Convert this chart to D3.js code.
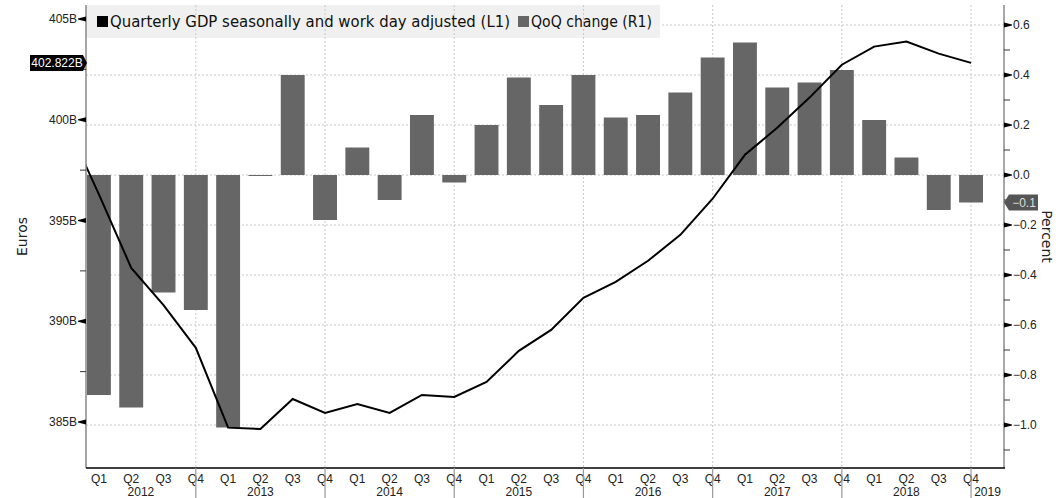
<!DOCTYPE html>
<html><head><meta charset="utf-8">
<script src="https://cdn.jsdelivr.net/npm/d3@7"></script>
<style>
body{margin:0;background:#fff;}
svg{display:block;font-family:"DejaVu Sans",sans-serif;}
.tk{font-family:"Liberation Sans",Arial,sans-serif;}
</style></head>
<body><svg id="c" width="1062" height="498"></svg>
<script>
// ---- data ----
const quarters = ["Q1","Q2","Q3","Q4"];
const years = [2012,2013,2014,2015,2016,2017,2018];
const yearLabels = ["2012","2013","2014","2015","2016","2017","2018","2019"];
// QoQ change (%), Q1 2012 .. Q4 2018
const qoq = [-0.88,-0.93,-0.47,-0.54,-1.01,-0.004,0.40,-0.18,
             0.11,-0.10,0.24,-0.03,0.20,0.39,0.28,0.40,
             0.23,0.24,0.33,0.47,0.53,0.35,0.37,0.42,
             0.22,0.07,-0.14,-0.11];
// Quarterly GDP (billions EUR), Q4 2011 .. Q4 2018 (first point sits outside the plot)
const gdpPrev = 399.8;
const gdp = [396.3,392.65,390.8,388.68,384.72,384.65,386.14,385.45,
             385.89,385.45,386.34,386.24,386.99,388.53,389.57,391.16,
             391.95,393.0,394.29,396.08,398.26,399.6,401.1,402.73,
             403.63,403.88,403.28,402.822];
const leftTicks = [385,390,395,400,405];
const leftMinor = [387.5,392.5,397.5,402.5];
const rightTicks = [0.6,0.4,0.2,0.0,-0.2,-0.4,-0.6,-0.8,-1.0];
const rightMinor = [0.5,0.3,0.1,-0.1,-0.3,-0.5,-0.7,-0.9,-1.1];

// ---- layout ----
const svg = d3.select("#c");
const L = 86, R = 1004, T = 5, B = 468;
const x = d3.scaleLinear().domain([-0.4, 28.02]).range([L, R]);
const yL = d3.scaleLinear().domain([385, 405]).range([422, 19]);
const yR = d3.scaleLinear().domain([-1, 0]).range([425, 175]);
const barW = x(0.74) - x(0);

svg.append("rect").attr("width",1062).attr("height",498).attr("fill","#fff");

// horizontal gridlines at right ticks
svg.append("g").selectAll("line").data(rightTicks).join("line")
  .attr("x1",L).attr("x2",R).attr("y1",d=>yR(d)).attr("y2",d=>yR(d))
  .attr("stroke","#c8c8c8").attr("stroke-width",1).attr("stroke-dasharray","2,2");

// legend background
svg.append("rect").attr("x",L).attr("y",T).attr("width",574).attr("height",33).attr("fill","#f0f0f0");

// vertical gridlines at Q4 of each year
const q4idx = years.map((y,i)=>i*4+3);
svg.append("g").selectAll("line").data(q4idx).join("line")
  .attr("x1",d=>x(d)).attr("x2",d=>x(d)).attr("y1",T).attr("y2",B)
  .attr("stroke","#c8c8c8").attr("stroke-width",1).attr("stroke-dasharray","2,2");

// bars
svg.append("g").selectAll("rect").data(qoq).join("rect")
  .attr("x",(d,i)=>x(i)-barW/2).attr("width",barW)
  .attr("y",d=>yR(Math.max(0,d))).attr("height",d=>Math.max(1,Math.abs(yR(d)-yR(0))))
  .attr("fill","#666666");

// line (clipped to plot area)
svg.append("clipPath").attr("id","clip").append("rect").attr("x",L).attr("y",T).attr("width",R-L).attr("height",B-T);
const lineData = [gdpPrev].concat(gdp);
svg.append("path").datum(lineData)
  .attr("clip-path","url(#clip)")
  .attr("d",d3.line().x((d,i)=>x(i-1)).y(d=>yL(d)))
  .attr("fill","none").attr("stroke","#000").attr("stroke-width",2);

// axes lines
svg.append("line").attr("x1",L).attr("x2",L).attr("y1",T).attr("y2",B).attr("stroke","#888").attr("stroke-width",1.5);
svg.append("line").attr("x1",R).attr("x2",R).attr("y1",T).attr("y2",B).attr("stroke","#888").attr("stroke-width",1.5);
svg.append("line").attr("x1",L).attr("x2",R+1).attr("y1",B).attr("y2",B).attr("stroke","#000").attr("stroke-width",1.5);

// left ticks
const gl = svg.append("g");
gl.selectAll("path").data(leftTicks).join("path")
  .attr("d",d=>`M${L},${yL(d)-2.5}L${L},${yL(d)+2.5}L${L-8},${yL(d)+0.5}L${L-8},${yL(d)-0.5}Z`).attr("fill","#000");
gl.selectAll("line").data(leftMinor).join("line")
  .attr("x1",L-6).attr("x2",L).attr("y1",d=>yL(d)).attr("y2",d=>yL(d)).attr("stroke","#333");
gl.selectAll("text").data(leftTicks).join("text").attr("class","tk")
  .attr("x",L-9).attr("y",d=>yL(d)).attr("dy","0.35em").attr("text-anchor","end")
  .attr("font-size",12).attr("fill","#222").text(d=>d+"B");

// right ticks
const gr = svg.append("g");
gr.selectAll("path").data(rightTicks).join("path")
  .attr("d",d=>`M${R},${yR(d)-2.5}L${R},${yR(d)+2.5}L${R+8},${yR(d)+0.5}L${R+8},${yR(d)-0.5}Z`).attr("fill","#000");
gr.selectAll("line").data(rightMinor).join("line")
  .attr("x1",R).attr("x2",R+6).attr("y1",d=>yR(d)).attr("y2",d=>yR(d)).attr("stroke","#333");
gr.selectAll("text").data(rightTicks).join("text").attr("class","tk")
  .attr("x",R+9).attr("y",d=>yR(d)).attr("dy","0.35em").attr("text-anchor","start")
  .attr("font-size",12).attr("fill","#222").text(d=>d3.format(".1f")(d));

// x axis labels
const idx = d3.range(qoq.length);
svg.append("g").selectAll("text").data(idx).join("text").attr("class","tk")
  .attr("x",d=>x(d)).attr("y",479).attr("dy","0.35em").attr("text-anchor","middle")
  .attr("font-size",12).attr("fill","#222").text(d=>quarters[d%4]);
// year separators
svg.append("g").selectAll("line").data(q4idx).join("line")
  .attr("x1",d=>x(d)).attr("x2",d=>x(d)).attr("y1",B).attr("y2",498)
  .attr("stroke","#999").attr("stroke-width",1.2);
const bounds = [L].concat(q4idx.map(d=>x(d))).concat([R]);
svg.append("g").selectAll("text").data(yearLabels).join("text").attr("class","tk")
  .attr("x",(d,i)=>(bounds[i]+bounds[i+1])/2).attr("y",492).attr("dy","0.35em").attr("text-anchor","middle")
  .attr("font-size",12).attr("fill","#222").text(d=>d);

// axis titles
svg.append("text").attr("transform",`translate(22,${(T+B)/2}) rotate(-90)`).attr("text-anchor","middle")
  .attr("dy","0.35em").attr("font-size",14).attr("fill","#222").text("Euros");
svg.append("text").attr("transform",`translate(1047,${(T+B)/2}) rotate(90)`).attr("text-anchor","middle")
  .attr("dy","0.35em").attr("font-size",14).attr("fill","#222").text("Percent");

// legend
const lg = svg.append("g");
lg.append("rect").attr("x",97).attr("y",16).attr("width",11).attr("height",11).attr("fill","#000");
lg.append("text").attr("x",110).attr("y",21.5).attr("dy","0.35em").attr("font-size",15).attr("fill","#111")
  .attr("textLength",400).attr("lengthAdjust","spacingAndGlyphs")
  .text("Quarterly GDP seasonally and work day adjusted (L1)");
lg.append("rect").attr("x",518).attr("y",16).attr("width",11).attr("height",11).attr("fill","#666666");
lg.append("text").attr("x",531).attr("y",21.5).attr("dy","0.35em").attr("font-size",15).attr("fill","#111")
  .attr("textLength",121).attr("lengthAdjust","spacingAndGlyphs")
  .text("QoQ change (R1)");

// last value tags
const lastG = gdp[gdp.length-1], lastQ = qoq[qoq.length-1];
const ly = yL(lastG);
svg.append("path").attr("d",`M30,${ly-8}L83,${ly-8}L87,${ly}L83,${ly+8}L30,${ly+8}Z`).attr("fill","#000");
svg.append("text").attr("class","tk").attr("x",57).attr("y",ly).attr("dy","0.35em").attr("text-anchor","middle")
  .attr("font-size",12).attr("fill","#fff").text(d3.format(".3f")(lastG)+"B");
const ry = yR(lastQ);
svg.append("path").attr("d",`M${R},${ry}L${R+5},${ry-8}L${R+34},${ry-8}L${R+34},${ry+8}L${R+5},${ry+8}Z`).attr("fill","#555");
svg.append("text").attr("class","tk").attr("x",R+20).attr("y",ry).attr("dy","0.35em").attr("text-anchor","middle")
  .attr("font-size",12).attr("fill","#ddd").text(d3.format(".1f")(lastQ));
</script></body></html>
